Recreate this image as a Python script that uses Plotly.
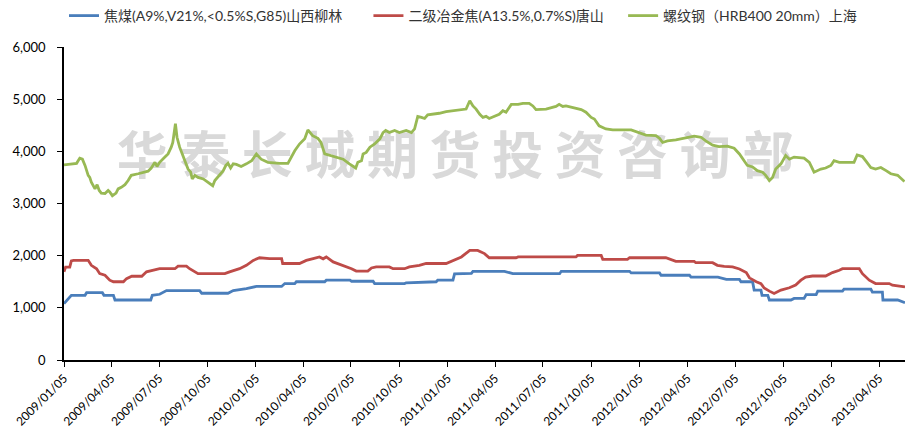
import plotly.graph_objects as go

# weekly prices, read at the points where the lines change
coal_name = "焦煤(A9%,V21%,<0.5%S,G85)山西柳林"
coal_dates = [
    "2009-01-05", "2009-01-19", "2009-02-14", "2009-02-17", "2009-03-19", "2009-03-22",
    "2009-04-09", "2009-04-12", "2009-06-19", "2009-06-22", "2009-07-06", "2009-07-19",
    "2009-09-20", "2009-09-24", "2009-11-13", "2009-11-23", "2009-12-18", "2010-01-06",
    "2010-02-23", "2010-03-01", "2010-03-20", "2010-03-23", "2010-05-16", "2010-05-19",
    "2010-07-03", "2010-07-06", "2010-08-16", "2010-08-19", "2010-10-15", "2010-10-18",
    "2010-12-14", "2010-12-17", "2011-01-15", "2011-01-18", "2011-02-19", "2011-02-22",
    "2011-04-23", "2011-05-09", "2011-08-06", "2011-08-09", "2011-12-17", "2011-12-20",
    "2012-02-12", "2012-02-15", "2012-04-09", "2012-04-12", "2012-06-02", "2012-06-18",
    "2012-07-13", "2012-07-16", "2012-08-07", "2012-08-10", "2012-08-23", "2012-08-25",
    "2012-09-05", "2012-09-08", "2012-10-19", "2012-10-25", "2012-11-13", "2012-11-17",
    "2012-12-06", "2012-12-09", "2013-01-25", "2013-01-28", "2013-03-20", "2013-03-23",
    "2013-04-11", "2013-04-12", "2013-05-10", "2013-05-24",
]
coal_values = [
    1080, 1240, 1240, 1290, 1290, 1240,
    1240, 1150, 1150, 1240, 1260, 1330,
    1330, 1280, 1280, 1330, 1370, 1410,
    1410, 1465, 1465, 1500, 1500, 1530,
    1530, 1510, 1510, 1465, 1465, 1480,
    1500, 1530, 1530, 1650, 1660, 1700,
    1700, 1655, 1655, 1700, 1700, 1670,
    1670, 1625, 1625, 1590, 1590, 1545,
    1545, 1500, 1500, 1340, 1340, 1240,
    1240, 1150, 1150, 1180, 1180, 1255,
    1255, 1320, 1320, 1360, 1360, 1300,
    1300, 1150, 1150, 1100,
]

coke_name = "二级冶金焦(A13.5%,0.7%S)唐山"
coke_dates = [
    "2009-01-05", "2009-01-08", "2009-01-16", "2009-01-19", "2009-01-23", "2009-02-20",
    "2009-02-26", "2009-03-08", "2009-03-14", "2009-03-24", "2009-04-02", "2009-04-09",
    "2009-04-28", "2009-05-04", "2009-05-14", "2009-06-02", "2009-06-11", "2009-06-27",
    "2009-07-06", "2009-08-04", "2009-08-10", "2009-08-26", "2009-09-01", "2009-09-17",
    "2009-11-07", "2009-11-16", "2009-12-05", "2009-12-18", "2009-12-31", "2010-01-12",
    "2010-01-31", "2010-02-23", "2010-02-25", "2010-03-29", "2010-04-11", "2010-04-24",
    "2010-05-06", "2010-05-13", "2010-05-19", "2010-06-01", "2010-06-20", "2010-07-06",
    "2010-07-15", "2010-08-06", "2010-08-13", "2010-08-22", "2010-09-16", "2010-09-23",
    "2010-10-15", "2010-10-24", "2010-11-12", "2010-11-25", "2011-01-02", "2011-01-09",
    "2011-01-24", "2011-01-31", "2011-02-16", "2011-03-03", "2011-03-16", "2011-03-25",
    "2011-05-15", "2011-05-19", "2011-09-06", "2011-09-09", "2011-10-24", "2011-10-27",
    "2011-12-13", "2011-12-17", "2012-02-24", "2012-03-05", "2012-03-14", "2012-04-18",
    "2012-04-21", "2012-05-23", "2012-06-01", "2012-06-14", "2012-06-30", "2012-07-13",
    "2012-07-26", "2012-08-01", "2012-08-14", "2012-08-23", "2012-08-29", "2012-09-08",
    "2012-09-17", "2012-09-30", "2012-10-16", "2012-10-28", "2012-11-07", "2012-11-16",
    "2012-11-29", "2012-12-24", "2013-01-06", "2013-01-19", "2013-01-25", "2013-02-26",
    "2013-03-04", "2013-03-17", "2013-03-29", "2013-04-24", "2013-04-30", "2013-05-24",
]
coke_values = [
    1690, 1780, 1780, 1900, 1910, 1910,
    1815, 1750, 1655, 1625, 1530, 1500,
    1500, 1560, 1605, 1605, 1690, 1720,
    1750, 1750, 1800, 1800, 1750, 1655,
    1655, 1690, 1750, 1815, 1910, 1960,
    1945, 1945, 1850, 1850, 1910, 1945,
    1975, 1940, 1975, 1880, 1815, 1750,
    1705, 1705, 1765, 1785, 1785, 1750,
    1750, 1785, 1815, 1850, 1850, 1880,
    1945, 1975, 2100, 2100, 2040, 1960,
    1960, 1975, 1975, 2005, 2005, 1930,
    1930, 1960, 1960, 1930, 1890, 1890,
    1865, 1865, 1815, 1795, 1785, 1745,
    1675, 1575, 1500, 1465, 1380, 1320,
    1275, 1340, 1385, 1435, 1530, 1590,
    1610, 1610, 1675, 1720, 1750, 1750,
    1655, 1530, 1465, 1465, 1435, 1400,
]

rebar_name = "螺纹钢（HRB400 20mm）上海"
rebar_dates = [
    "2009-01-05", "2009-01-29", "2009-02-04", "2009-02-09", "2009-02-14", "2009-02-20",
    "2009-02-23", "2009-02-26", "2009-03-05", "2009-03-09", "2009-03-13", "2009-03-17",
    "2009-03-24", "2009-03-30", "2009-04-02", "2009-04-07", "2009-04-14", "2009-04-18",
    "2009-04-24", "2009-05-01", "2009-05-07", "2009-05-13", "2009-05-26", "2009-06-04",
    "2009-06-14", "2009-06-20", "2009-06-27", "2009-07-01", "2009-07-06", "2009-07-16",
    "2009-07-22", "2009-07-28", "2009-07-31", "2009-08-05", "2009-08-08", "2009-08-13",
    "2009-08-18", "2009-08-23", "2009-08-29", "2009-09-03", "2009-09-06", "2009-09-11",
    "2009-09-17", "2009-09-27", "2009-10-06", "2009-10-15", "2009-10-19", "2009-10-27",
    "2009-11-04", "2009-11-09", "2009-11-13", "2009-11-18", "2009-11-23", "2009-11-29",
    "2009-12-08", "2009-12-18", "2009-12-28", "2010-01-06", "2010-01-15", "2010-01-28",
    "2010-02-19", "2010-03-07", "2010-03-13", "2010-03-20", "2010-03-29", "2010-04-08",
    "2010-04-14", "2010-04-23", "2010-05-03", "2010-05-09", "2010-05-16", "2010-05-26",
    "2010-06-07", "2010-06-20", "2010-07-02", "2010-07-14", "2010-07-18", "2010-07-25",
    "2010-07-28", "2010-08-03", "2010-08-10", "2010-08-19", "2010-08-29", "2010-09-04",
    "2010-09-09", "2010-09-16", "2010-09-26", "2010-10-05", "2010-10-18", "2010-10-28",
    "2010-11-03", "2010-11-09", "2010-11-16", "2010-11-22", "2010-11-28", "2010-12-08",
    "2010-12-20", "2011-01-02", "2011-01-15", "2011-01-28", "2011-02-09", "2011-02-16",
    "2011-02-22", "2011-02-28", "2011-03-07", "2011-03-13", "2011-03-19", "2011-03-25",
    "2011-04-04", "2011-04-13", "2011-04-20", "2011-04-26", "2011-05-06", "2011-05-19",
    "2011-05-28", "2011-06-09", "2011-06-16", "2011-06-22", "2011-07-11", "2011-07-30",
    "2011-08-05", "2011-08-12", "2011-08-18", "2011-08-31", "2011-09-16", "2011-09-25",
    "2011-10-05", "2011-10-11", "2011-10-20", "2011-11-02", "2011-11-15", "2011-12-20",
    "2012-01-05", "2012-01-17", "2012-02-05", "2012-02-12", "2012-02-18", "2012-02-27",
    "2012-03-14", "2012-04-02", "2012-04-18", "2012-05-01", "2012-05-10", "2012-05-23",
    "2012-06-04", "2012-06-20", "2012-07-03", "2012-07-13", "2012-07-22", "2012-07-28",
    "2012-08-07", "2012-08-16", "2012-08-26", "2012-09-01", "2012-09-08", "2012-09-14",
    "2012-09-20", "2012-09-30", "2012-10-09", "2012-10-16", "2012-10-25", "2012-11-13",
    "2012-11-23", "2012-12-02", "2012-12-15", "2012-12-24", "2013-01-03", "2013-01-09",
    "2013-01-19", "2013-02-16", "2013-02-22", "2013-03-04", "2013-03-10", "2013-03-20",
    "2013-03-29", "2013-04-08", "2013-04-18", "2013-04-27", "2013-05-10", "2013-05-23",
]
rebar_values = [
    3740, 3770, 3870, 3850, 3730, 3540,
    3500, 3410, 3280, 3360, 3250, 3200,
    3190, 3250, 3220, 3150, 3200, 3280,
    3310, 3360, 3440, 3540, 3570, 3600,
    3620, 3680, 3790, 3710, 3790, 3890,
    3950, 4080, 4170, 4530, 4270, 4080,
    3950, 3790, 3660, 3600, 3470, 3540,
    3500, 3470, 3410, 3340, 3440, 3540,
    3630, 3730, 3770, 3680, 3760, 3750,
    3710, 3760, 3820, 3950, 3850, 3790,
    3770, 3770, 3890, 4010, 4140, 4240,
    4410, 4300, 4250, 4170, 3950, 3920,
    3890, 3850, 3760, 3680, 3790, 3820,
    3950, 3980, 4080, 4140, 4240, 4360,
    4400, 4360, 4400, 4360, 4400, 4360,
    4430, 4670, 4650, 4630, 4700, 4710,
    4730, 4760, 4780, 4790, 4810, 4970,
    4870, 4810, 4710, 4650, 4670, 4630,
    4670, 4710, 4780, 4750, 4900, 4900,
    4920, 4920, 4870, 4800, 4810, 4860,
    4900, 4860, 4870, 4840, 4800, 4750,
    4650, 4620, 4490, 4430, 4410, 4410,
    4360, 4310, 4300, 4250, 4170, 4200,
    4220, 4250, 4290, 4270, 4200, 4120,
    4090, 4100, 4060, 3950, 3820, 3730,
    3700, 3630, 3600, 3540, 3440, 3500,
    3660, 3760, 3920, 3850, 3890, 3870,
    3790, 3600, 3660, 3680, 3730, 3820,
    3790, 3790, 3930, 3900, 3820, 3690,
    3660, 3690, 3630, 3570, 3540, 3420,
]

tick_dates = [
    "2009-01-05", "2009-04-05", "2009-07-05", "2009-10-05",
    "2010-01-05", "2010-04-05", "2010-07-05", "2010-10-05",
    "2011-01-05", "2011-04-05", "2011-07-05", "2011-10-05",
    "2012-01-05", "2012-04-05", "2012-07-05", "2012-10-05",
    "2013-01-05", "2013-04-05",
]

watermark = "华 泰 长 城 期 货 投 资 咨 询 部"
FONT = "Lato, Noto Sans CJK SC, sans-serif"

series = [
    (coal_name, coal_dates, coal_values, "#4a7ebb", "legend", 0.0, "left"),
    (coke_name, coke_dates, coke_values, "#be4b48", "legend2", 0.362, "left"),
    (rebar_name, rebar_dates, rebar_values, "#98b954", "legend3", 0.949, "right"),
]

fig = go.Figure()
legends = {}
for name, dates, values, color, legend_id, legend_x, anchor in series:
    fig.add_trace(go.Scatter(x=dates, y=values, name=name, mode="lines", legend=legend_id,
                             line=dict(color=color, width=2.8)))
    # one legend per series so each entry sits where the reference has it
    legends[legend_id] = dict(
        orientation="h", x=legend_x, y=1.096, xanchor=anchor, yanchor="middle",
        font=dict(family=FONT, size=14, color="#333333"),
        bgcolor="rgba(0,0,0,0)", borderwidth=0,
    )

# the watermark sits under the lines
fig.add_shape(
    type="rect", xref="paper", yref="paper", x0=0.008, x1=0.922, y0=0.555, y1=0.725,
    line=dict(width=0), fillcolor="rgba(0,0,0,0)", layer="below",
    label=dict(text=watermark, textposition="middle center",
               font=dict(family="Noto Sans CJK SC", size=51, color="#d9d9d9", weight="bold")),
)

fig.update_layout(
    width=906, height=431,
    margin=dict(l=64, r=1, t=46, b=71),
    plot_bgcolor="white", paper_bgcolor="white",
    font=dict(family=FONT, size=13, color="#000000"),
    showlegend=True,
    xaxis=dict(
        type="date", range=["2009-01-05", "2013-05-24"], automargin=False,
        tickvals=tick_dates, tickformat="%Y/%m/%d", tickangle=-45,
        showgrid=False, zeroline=False, showline=True, linecolor="#000000", linewidth=1.5,
        ticks="outside", ticklen=5, tickcolor="#000000", tickfont=dict(size=12),
    ),
    yaxis=dict(
        range=[0, 6000], dtick=1000, tickformat=",", automargin=False,
        showgrid=False, zeroline=False, showline=True, linecolor="#000000", linewidth=1.5,
        ticks="outside", ticklen=5, tickcolor="#000000", tickfont=dict(size=13),
        ticklabelstandoff=9,
    ),
    **legends,
)

# the page's default body margin would push the figure 8px off the window
fig.write_html("out.html", config={"displayModeBar": False},
               post_script="document.body.style.margin = '0';")
